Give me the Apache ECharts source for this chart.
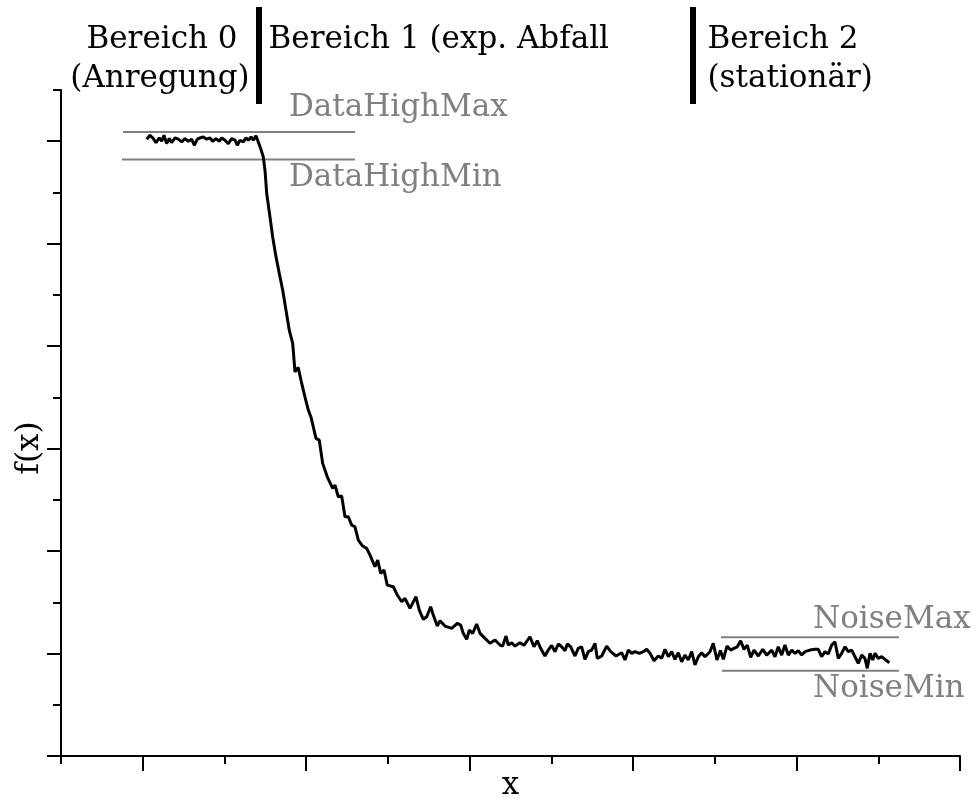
<!DOCTYPE html>
<html>
<head>
<meta charset="utf-8">
<script src="https://cdn.jsdelivr.net/npm/echarts@6/dist/echarts.min.js"></script>
<style>
  html, body { margin: 0; padding: 0; background: #fff; }
  #chart { width: 977px; height: 799px; }
</style>
</head>
<body>
<div id="chart"></div>
<script>
// Measured signal f(x): excitation plateau, exponential decay, stationary noise floor
const xs = [
  1.049, 1.089, 1.129, 1.162, 1.203, 1.232, 1.260, 1.293, 1.325, 1.354,
  1.395, 1.435, 1.477, 1.517, 1.558, 1.599, 1.631, 1.668, 1.701, 1.741,
  1.783, 1.823, 1.856, 1.896, 1.937, 1.966, 2.007, 2.047, 2.088, 2.129,
  2.157, 2.190, 2.230, 2.263, 2.292, 2.325, 2.353, 2.386, 2.414, 2.443,
  2.475, 2.496, 2.517, 2.557, 2.590, 2.631, 2.671, 2.713, 2.753, 2.793,
  2.835, 2.863, 2.903, 2.945, 2.985, 3.026, 3.059, 3.120, 3.160, 3.202,
  3.258, 3.324, 3.353, 3.393, 3.434, 3.475, 3.515, 3.557, 3.597, 3.638,
  3.691, 3.740, 3.781, 3.842, 3.875, 3.912, 3.952, 3.992, 4.066, 4.115,
  4.169, 4.209, 4.270, 4.344, 4.384, 4.433, 4.475, 4.523, 4.555, 4.604,
  4.637, 4.698, 4.780, 4.849, 4.890, 4.922, 4.964, 4.996, 5.037, 5.086,
  5.127, 5.188, 5.249, 5.310, 5.371, 5.404, 5.445, 5.473, 5.514, 5.555,
  5.616, 5.665, 5.738, 5.787, 5.828, 5.869, 5.922, 5.962, 6.004, 6.044,
  6.085, 6.126, 6.167, 6.195, 6.236, 6.289, 6.329, 6.371, 6.411, 6.452,
  6.493, 6.534, 6.562, 6.616, 6.677, 6.726, 6.791, 6.860, 6.901, 6.941,
  6.983, 7.023, 7.076, 7.125, 7.166, 7.207, 7.256, 7.308, 7.350, 7.390,
  7.431, 7.472, 7.512, 7.553, 7.594, 7.635, 7.675, 7.717, 7.757, 7.798,
  7.839, 7.880, 7.941, 7.981, 8.026, 8.069, 8.104, 8.149, 8.194, 8.234,
  8.275, 8.316, 8.357, 8.397, 8.439, 8.479, 8.532, 8.586, 8.635, 8.696,
  8.736, 8.776, 8.818, 8.858, 8.899, 8.941, 8.981, 9.021, 9.063, 9.103,
  9.164, 9.226, 9.266, 9.307, 9.348, 9.388, 9.430, 9.470, 9.511, 9.552,
  9.593, 9.633, 9.675, 9.715, 9.755, 9.797, 9.837, 9.865, 9.899, 9.932,
  9.960, 10.000, 10.042, 10.082, 10.135
];
const ys = [
  6.020, 6.059, 6.026, 5.987, 6.032, 6.000, 6.059, 5.977, 6.026, 5.987,
  6.032, 6.020, 5.993, 6.026, 6.000, 6.020, 5.961, 6.020, 6.032, 6.042,
  6.020, 6.032, 6.000, 6.026, 6.000, 6.032, 6.010, 5.977, 6.026, 6.010,
  5.961, 6.010, 5.993, 6.032, 6.010, 6.042, 6.010, 6.052, 5.993, 5.929,
  5.847, 5.717, 5.490, 5.262, 5.066, 4.871, 4.709, 4.546, 4.351, 4.156,
  4.026, 3.749, 3.792, 3.636, 3.505, 3.376, 3.307, 3.100, 3.083, 2.856,
  2.725, 2.612, 2.644, 2.530, 2.537, 2.335, 2.335, 2.254, 2.237, 2.107,
  2.049, 2.026, 1.961, 1.847, 1.912, 1.782, 1.815, 1.668, 1.652, 1.571,
  1.505, 1.539, 1.441, 1.554, 1.424, 1.334, 1.359, 1.457, 1.376, 1.268,
  1.320, 1.268, 1.246, 1.295, 1.278, 1.197, 1.139, 1.229, 1.197, 1.288,
  1.197, 1.148, 1.100, 1.132, 1.083, 1.073, 1.171, 1.083, 1.105, 1.073,
  1.105, 1.080, 1.164, 1.066, 1.125, 1.051, 0.976, 1.034, 1.080, 1.018,
  1.093, 1.066, 1.027, 1.093, 1.066, 0.976, 1.051, 1.066, 0.943, 1.018,
  1.034, 1.100, 0.953, 0.976, 1.073, 1.018, 0.976, 1.008, 0.937, 1.034,
  1.002, 1.018, 1.002, 1.018, 1.041, 1.002, 0.930, 0.976, 0.953, 1.041,
  0.969, 1.018, 0.943, 1.008, 0.920, 0.985, 0.937, 1.018, 0.888, 0.969,
  1.008, 0.969, 1.018, 1.100, 0.937, 1.029, 0.943, 1.073, 1.034, 1.051,
  1.066, 1.125, 1.041, 1.083, 0.963, 1.034, 0.976, 1.041, 0.985, 1.034,
  0.969, 1.066, 0.985, 1.083, 0.985, 1.034, 1.002, 1.027, 0.985, 1.018,
  1.034, 1.041, 1.041, 0.969, 1.018, 0.995, 1.083, 1.115, 0.953, 1.002,
  1.066, 1.018, 1.034, 0.969, 0.904, 0.985, 0.953, 0.856, 1.002, 0.937,
  1.002, 0.953, 0.969, 0.943, 0.910
];

// Threshold levels and the x span each one covers
const dataHighMax = { y: 6.091, x: [0.759, 3.597] };
const dataHighMin = { y: 5.821, x: [0.746, 3.597] };
const noiseMax    = { y: 1.158, x: [8.075, 10.253] };
const noiseMin    = { y: 0.832, x: [8.088, 10.253] };

// Borders between the three regions (x values)
const regionBorders = [2.417, 7.739];

// Axis ranges and tick positions
const xRange = [0, 11];
const yRange = [0, 6.5];
const xMajorTicks = [1, 3, 5, 7, 9, 11];
const yMajorTicks = [0, 1, 2, 3, 4, 5, 6];

const FONT = 'DejaVu Serif';
const GREY = '#808080';

const chart = echarts.init(document.getElementById('chart'), null, { renderer: 'canvas' });

const signal = xs.map((x, i) => [x, ys[i]]);
const levelLine = (lvl) => [[lvl.x[0], lvl.y], [lvl.x[1], lvl.y]];

const axisLineStyle = { color: '#000', width: 2 };

function refSeries(lvl) {
  return {
    type: 'line',
    data: levelLine(lvl),
    showSymbol: false,
    symbol: 'none',
    silent: true,
    lineStyle: { color: GREY, width: 2 },
    z: 1
  };
}

chart.setOption({
  animation: false,
  backgroundColor: '#fff',
  grid: {
    left: 61, right: 17, top: 90, bottom: 43,
    containLabel: false,
    outerBoundsMode: 'none'
  },
  xAxis: [
    {
      type: 'value', min: xRange[0], max: xRange[1], interval: 1,
      axisLine: { onZero: false, lineStyle: axisLineStyle },
      axisTick: { length: 8, lineStyle: axisLineStyle },
      axisLabel: { show: false },
      splitLine: { show: false },
      name: 'x', nameLocation: 'middle', nameGap: 14,
      nameTextStyle: { fontFamily: FONT, fontSize: 31, color: '#000' }
    },
    {
      type: 'value', min: xRange[0], max: xRange[1], position: 'bottom',
      axisLine: { show: false, onZero: false },
      axisTick: { length: 15, customValues: xMajorTicks, lineStyle: axisLineStyle },
      axisLabel: { show: false },
      splitLine: { show: false }
    }
  ],
  yAxis: [
    {
      type: 'value', min: yRange[0], max: yRange[1], interval: 0.5,
      axisLine: { onZero: false, lineStyle: axisLineStyle },
      axisTick: { length: 8, lineStyle: axisLineStyle },
      axisLabel: { show: false },
      splitLine: { show: false }
    },
    {
      type: 'value', min: yRange[0], max: yRange[1], position: 'left',
      axisLine: { show: false, onZero: false },
      axisTick: { length: 14, customValues: yMajorTicks, lineStyle: axisLineStyle },
      axisLabel: { show: false },
      splitLine: { show: false }
    }
  ],
  series: [
    refSeries(dataHighMax),
    refSeries(dataHighMin),
    refSeries(noiseMax),
    refSeries(noiseMin),
    {
      type: 'line',
      data: signal,
      showSymbol: false,
      symbol: 'none',
      lineStyle: { color: '#000', width: 3 },
      z: 3
    }
  ]
});

// Region borders and annotations, anchored through the axis scales
const px = (v) => chart.convertToPixel({ xAxisIndex: 0 }, v);
const textStyle = (t, x, y, color, align) => ({
  type: 'text',
  x: x, y: y,
  style: {
    text: t,
    fill: color,
    font: '31px "' + FONT + '"',
    align: align || 'left',
    verticalAlign: 'middle'
  },
  z: 10
});

const graphics = regionBorders.map((v) => ({
  type: 'rect',
  shape: { x: Math.round(px(v)) - 3, y: 7, width: 6, height: 97 },
  style: { fill: '#000' },
  z: 10
}));

// y-axis title, set slightly below the axis midpoint
const yTitle = textStyle('f(x)', 30, 448, '#000', 'center');
yTitle.rotation = Math.PI / 2;

graphics.push(
  yTitle,
  textStyle('Bereich 0', 162, 40, '#000', 'center'),
  textStyle('(Anregung)', 160, 79, '#000', 'center'),
  textStyle('Bereich 1 (exp. Abfall', px(regionBorders[0]) + 10, 40, '#000'),
  textStyle('Bereich 2', px(regionBorders[1]) + 14, 40, '#000'),
  textStyle('(stationär)', px(regionBorders[1]) + 14, 79, '#000'),
  textStyle('DataHighMax', 289, 108, GREY),
  textStyle('DataHighMin', 289, 178, GREY),
  textStyle('NoiseMax', 813, 620, GREY),
  textStyle('NoiseMin', 813, 689, GREY)
);

chart.setOption({ graphic: graphics });
</script>
</body>
</html>
